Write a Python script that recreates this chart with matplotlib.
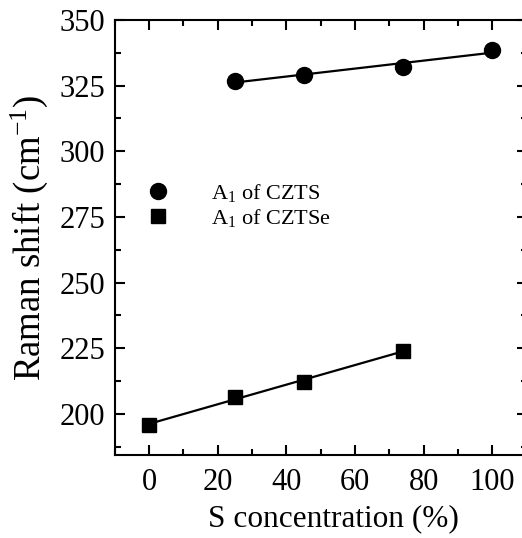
import numpy as np
import matplotlib.pyplot as plt
from matplotlib.ticker import MultipleLocator

plt.rcParams['font.family'] = 'Liberation Serif'
plt.rcParams['mathtext.fontset'] = 'custom'
plt.rcParams['mathtext.rm'] = 'Liberation Serif'
plt.rcParams['mathtext.it'] = 'Liberation Serif:italic'

# S concentration (%) and Raman shift (cm-1)
x_czts = [25, 45, 74, 100]
y_czts = [326.8, 329.0, 332.2, 338.5]
x_cztse = [0, 25, 45, 74]
y_cztse = [195.9, 206.5, 212.2, 224.0]

fig = plt.figure(figsize=(5.22, 5.38), dpi=100)
ax = fig.add_axes([0.22, 0.154, 0.789, 0.809])

ax.plot(x_czts, y_czts, 'o', color='black', ms=11.5, label='A$_1$ of CZTS')
ax.plot(x_cztse, y_cztse, 's', color='black', ms=9.5, label='A$_1$ of CZTSe')

# linear fits
for xs, ys in [(x_czts, y_czts), (x_cztse, y_cztse)]:
    k, b = np.polyfit(xs, ys, 1)
    xx = np.array([min(xs), max(xs)])
    ax.plot(xx, k * xx + b, '-', color='black', lw=1.6)

ax.set_xlim(-10, 110)
ax.set_ylim(184.3, 350)
ax.xaxis.set_major_locator(MultipleLocator(20))
ax.xaxis.set_minor_locator(MultipleLocator(10))
ax.yaxis.set_major_locator(MultipleLocator(25))
ax.yaxis.set_minor_locator(MultipleLocator(12.5))
ax.tick_params(which='both', direction='in', top=True, right=True,
               labelsize=22, width=1.5)
ax.tick_params(axis='x', pad=9)
ax.tick_params(axis='y', pad=7)
ax.tick_params(which='major', length=7)
ax.tick_params(which='minor', length=4)
for s in ax.spines.values():
    s.set_linewidth(1.5)

ax.set_xlabel('S concentration (%)', fontsize=22.5)
ax.xaxis.set_label_coords(0.53, -0.113)
ax.set_ylabel('Raman shift (cm$^{-1}$)', fontsize=26.5, labelpad=7)

ax.legend(loc='upper left', bbox_to_anchor=(0.03, 0.648), frameon=False,
          fontsize=16, handletextpad=1.35, labelspacing=0.12, borderaxespad=0)

fig.savefig('out.png', dpi=100)
